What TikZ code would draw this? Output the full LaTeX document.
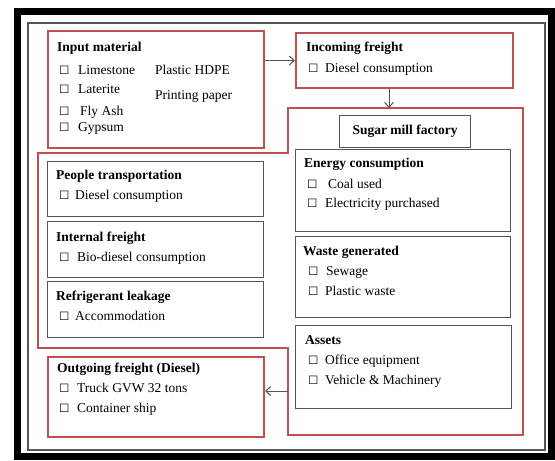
\documentclass[tikz,border=0pt]{standalone}
\usepackage{fontspec}
\setmainfont{Liberation Serif}
\newfontfamily\symfont{DejaVu Sans}
\usetikzlibrary{arrows.meta}
\definecolor{redb}{RGB}{192,80,77}
\definecolor{grayb}{RGB}{85,85,85}
\newcommand{\cbglyph}{{\symfont\fontsize{11.5}{11.5}\selectfont ☐}}
\newcommand{\cbx}[1]{\makebox[#1pt][l]{\cbglyph}}
\begin{document}
\begin{tikzpicture}[x=1pt,y=-1pt,
  redbox/.style={draw=redb, line width=2pt, anchor=north west, inner sep=0pt},
  graybox/.style={draw=grayb, line width=1.2pt, anchor=north west, inner sep=0pt},
  head/.style={anchor=base west, font=\fontsize{13.5}{15}\selectfont\bfseries, inner sep=0pt},
  item/.style={anchor=base west, font=\fontsize{13.5}{15}\selectfont, inner sep=0pt},
  arr/.style={-{Straight Barb[length=5pt,width=9pt]}, draw=grayb, line width=1pt}]
\useasboundingbox (0,0) rectangle (555,461);
% frames
\draw[line width=7pt, black] (17,11) rectangle (551.5,456.5);
\draw[line width=1.5pt, grayb] (28,23) rectangle (545,450);

% Input material
\node[redbox, minimum width=216pt, minimum height=117pt] (input) at (47,30) {};
\node[head] (inputh) at (57,51) {Input material};
\node[item] (lime) at (59,74) {\cbx{19}Limestone};
\node[item] (later) at (59,93) {\cbx{19}Laterite};
\node[item] (fly) at (59,115) {\cbx{21}Fly Ash};
\node[item] (gyp) at (59,131) {\cbx{19}Gypsum};
\node[item] (hdpe) at (155,74) {Plastic HDPE};
\node[item] (paper) at (155,99) {Printing paper};

% Incoming freight
\node[redbox, minimum width=217pt, minimum height=55pt] (incoming) at (295,32) {};
\node[head] (incomingh) at (306,51) {Incoming freight};
\node[item] (incd) at (308,72) {\cbx{17}Diesel consumption};

% Sugar mill outline
\coordinate (smT) at (389,108);
\coordinate (smL) at (288,391);
\draw[draw=redb, line width=2pt] (288,108) -- (523,108) -- (523,435) -- (288,435) -- (288,348) -- (38,348) -- (38,153) -- (288,153) -- cycle;
\node[graybox, minimum width=131pt, minimum height=32pt, font=\fontsize{13.5}{15}\selectfont\bfseries] (sugar) at (339,115) {Sugar mill factory};

% Energy
\node[graybox, minimum width=215pt, minimum height=82pt] (energy) at (295,149) {};
\node[head] (energyh) at (304,167) {Energy consumption};
\node[item] (coal) at (307,188) {\cbx{21}Coal used};
\node[item] (elec) at (307,207) {\cbx{18}Electricity purchased};

% Waste
\node[graybox, minimum width=215pt, minimum height=81pt] (waste) at (295,236) {};
\node[head] (wasteh) at (303,255) {Waste generated};
\node[item] (sew) at (308,275) {\cbx{18}Sewage};
\node[item] (plw) at (308,295) {\cbx{17}Plastic waste};

% Assets
\node[graybox, minimum width=216pt, minimum height=83pt] (assets) at (295,325) {};
\node[head] (assetsh) at (305,344) {Assets};
\node[item] (office) at (308,364) {\cbx{17}Office equipment};
\node[item] (vehicle) at (308,384) {\cbx{17}Vehicle \& Machinery};

% People transportation
\node[graybox, minimum width=216pt, minimum height=55pt] (people) at (47,161) {};
\node[head] (peopleh) at (56,179) {People transportation};
\node[item] (peopled) at (59,199) {\cbx{16}Diesel consumption};

% Internal freight
\node[graybox, minimum width=216pt, minimum height=56pt] (internal) at (47,221) {};
\node[head] (internalh) at (56,241) {Internal freight};
\node[item] (bio) at (59,261) {\cbx{18}Bio-diesel consumption};

% Refrigerant leakage
\node[graybox, minimum width=216pt, minimum height=56pt] (refrig) at (47,281) {};
\node[head] (refrigh) at (56,300) {Refrigerant leakage};
\node[item] (accom) at (59,320) {\cbx{16}Accommodation};

% Outgoing freight
\node[redbox, minimum width=216pt, minimum height=80pt] (outgoing) at (47,356) {};
\node[head] (outgoingh) at (57,372) {Outgoing freight (Diesel)};
\node[item] (truck) at (59,392) {\cbx{18}Truck GVW 32 tons};
\node[item] (ship) at (59,412) {\cbx{18}Container ship};

% connectors
\draw[arr] (incoming.west -| input.east) -- (incoming.west);
\draw[arr] (smT |- incoming.south) -- (smT);
\draw[arr] (smL) -- (smL -| outgoing.east);
\end{tikzpicture}
\end{document}
